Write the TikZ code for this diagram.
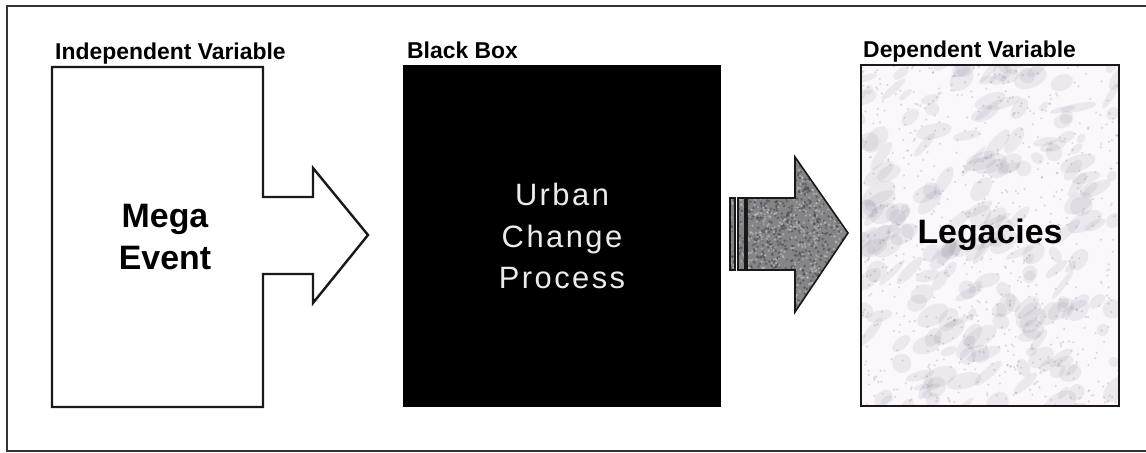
\documentclass[tikz,border=0pt]{standalone}
\usepackage{fontspec}
\setmainfont{Liberation Sans}
\definecolor{marble}{RGB}{112,106,128}
\definecolor{speckA}{RGB}{70,66,78}
\definecolor{speckB}{RGB}{205,200,215}
\tikzset{
  frameline/.style={line width=1.4bp, draw=black!80},
  outline/.style={line width=2.4bp, draw=black!90, line join=miter},
  headlabel/.style={anchor=base west, inner sep=0pt, font=\bfseries\fontsize{23}{23}\selectfont},
  bigbold/.style={align=center, inner sep=0pt, font=\bfseries\fontsize{34}{42}\selectfont},
  spot/.style={inner sep=0pt, outer sep=0pt}
}
\begin{document}
\begin{tikzpicture}[x=1bp,y=-1bp]
\useasboundingbox (0,0) rectangle (1146,453);
\fill[white] (0,0) rectangle (1146,453);
% outer frame (right side cut off)
\draw[frameline] (1160,6) -- (7,6) -- (7,451) -- (1160,451);

% ---------- independent variable ----------
\node[spot, minimum width=211bp, minimum height=340bp, anchor=north west] (ind) at (52,67) {};
\coordinate (indtip) at (368,235);
\draw[outline] (ind.north west) -- (ind.north east) -- (263,197) -- (313,197) -- (313,168)
  -- (indtip) -- (313,303) -- (313,274) -- (263,274) -- (ind.south east) -- (ind.south west) -- cycle;
\node[headlabel] (indlab) at (55,60) {Independent Variable};
\node[bigbold] (mega) at (165,237) {Mega\\Event};

% ---------- black box ----------
\node[spot, fill=black, minimum width=318bp, minimum height=342bp, anchor=north west] (bb) at (403,65) {};
\node[headlabel] (bblab) at (407,59) {Black Box};
\node[align=center, inner sep=0pt, text=white!92!black,
      font=\fontsize{31}{42}\selectfont\addfontfeatures{LetterSpace=8}] (ucp) at (562,236) {Urban\\Change\\Process};

% ---------- gray arrow ----------
\coordinate (gtip) at (848,233);
\begin{scope}
  \clip (730,198) rectangle (735,270) (738,198) rectangle (745,270)
        (747,198) -- (795,198) -- (795,157) -- (gtip) -- (795,312) -- (795,270) -- (747,270) -- cycle;
  \fill[black!48] (725,150) rectangle (850,315);
  \pgfmathsetseed{7}
  \foreach \i in {1,...,1800}{
    \pgfmathsetmacro\px{728+122*rnd}
    \pgfmathsetmacro\py{155+160*rnd}
    \ifodd\i
      \fill[speckA, opacity=0.55] (\px,\py) circle (1.4);
    \else
      \fill[speckB, opacity=0.55] (\px,\py) circle (1.2);
    \fi
  }
\end{scope}
\draw[line width=1.6bp, draw=black!90, line join=miter]
  (730,198) rectangle (735,270) (738,198) rectangle (745,270)
  (747,198) -- (795,198) -- (795,157) -- (gtip) -- (795,312) -- (795,270) -- (747,270) -- cycle;

% ---------- dependent variable ----------
\node[spot, minimum width=258bp, minimum height=341bp, anchor=north west] (dep) at (861,65) {};
\begin{scope}
  \clip (dep.north west) rectangle (dep.south east);
  \fill[white!97!violet] (dep.north west) rectangle (dep.south east);
  \pgfmathsetseed{3}
  \foreach \i in {1,...,220}{
    \pgfmathsetmacro\px{855+270*rnd}
    \pgfmathsetmacro\py{60+350*rnd}
    \pgfmathsetmacro\ra{5+14*rnd}
    \pgfmathsetmacro\rb{3+7*rnd}
    \pgfmathsetmacro\rot{10+50*rnd}
    \fill[marble, opacity=0.10, rotate around={\rot:(\px,\py)}]
      (\px,\py) ellipse ({\ra} and {\rb});
  }
  \foreach \i in {1,...,700}{
    \pgfmathsetmacro\px{855+270*rnd}
    \pgfmathsetmacro\py{60+350*rnd}
    \fill[marble, opacity=0.22] (\px,\py) circle (1.2);
  }
\end{scope}
\draw[line width=1.8bp, draw=black!90] (dep.north west) rectangle (dep.south east);
\node[headlabel] (deplab) at (863,58) {Dependent Variable};
\node[bigbold] (leg) at (990,235) {Legacies};
\end{tikzpicture}
\end{document}
